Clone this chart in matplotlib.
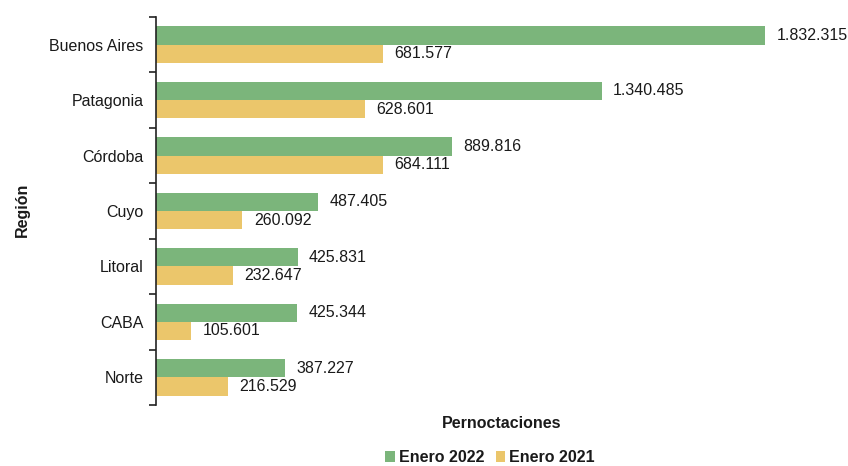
import matplotlib
matplotlib.use("Agg")
import matplotlib.pyplot as plt
import numpy as np
from matplotlib.ticker import FixedLocator

regiones = ["Buenos Aires", "Patagonia", "Córdoba", "Cuyo", "Litoral", "CABA", "Norte"]
enero_2022 = [1832315, 1340485, 889816, 487405, 425831, 425344, 387227]
enero_2021 = [681577, 628601, 684111, 260092, 232647, 105601, 216529]
serie_nombres = ["Enero 2022", "Enero 2021"]

def fmt(v):
    return f"{v:,}".replace(",", ".")

plt.rcParams['font.family'] = ['Liberation Sans', 'DejaVu Sans']

fig = plt.figure(figsize=(8.48, 4.66), dpi=100)
ax = fig.add_axes([0.184, 0.131, 0.784, 0.8325])

green = "#7BB57B"
yellow = "#EBC66B"
txt = "#1a1a1a"
fs = 11.5
h = 0.33
y = np.arange(len(regiones))
b1 = ax.barh(y - h/2, enero_2022, height=h, color=green, label=serie_nombres[0])
b2 = ax.barh(y + h/2, enero_2021, height=h, color=yellow, label=serie_nombres[1])

for yy, v in zip(y - h/2, enero_2022):
    ax.text(v + 34000, yy, fmt(v), va="center", ha="left", fontsize=fs, color=txt, clip_on=False)
for yy, v in zip(y + h/2, enero_2021):
    ax.text(v + 34000, yy, fmt(v), va="center", ha="left", fontsize=fs, color=txt, clip_on=False)

ax.set_ylim(len(regiones) - 0.5, -0.5)
ax.set_xlim(0, 2000000)
ax.set_yticks(y)
ax.set_yticklabels(regiones, fontsize=fs, color=txt)
ax.yaxis.set_minor_locator(FixedLocator(np.arange(-0.5, len(regiones), 1.0)))
ax.tick_params(axis="y", which="major", length=0, pad=9)
ax.tick_params(axis="y", which="minor", length=5, width=1.2, color="#222222")
ax.xaxis.set_visible(False)
for s in ["top", "right", "bottom"]:
    ax.spines[s].set_visible(False)
ax.spines["left"].set_linewidth(1.2)
ax.spines["left"].set_color("#222222")

fig.text(0.026, 0.55, "Región", rotation=90, fontsize=fs, fontweight="bold", ha="center", va="center", color=txt)
fig.text(0.591, 0.092, "Pernoctaciones", fontsize=fs, fontweight="bold", ha="center", va="center", color=txt)

leg = fig.legend(handles=[b1, b2], loc="center", bbox_to_anchor=(0.578, 0.018), ncol=2, frameon=False,
                 prop={"size": fs, "weight": "bold"}, handlelength=0.6, handleheight=0.6,
                 handletextpad=0.25, columnspacing=0.7, borderpad=0.1)
for t in leg.get_texts():
    t.set_color(txt)

fig.savefig("out.png", dpi=100)
